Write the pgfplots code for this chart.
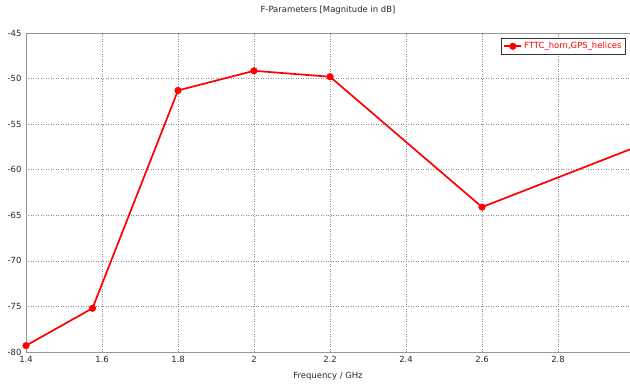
\documentclass[border=0pt]{standalone}
\usepackage{pgfplots}
\pgfplotsset{compat=1.18}
\usepackage{fontspec}
\setmainfont{DejaVu Sans}
\definecolor{axgray}{RGB}{150,150,150}
\definecolor{gridgray}{RGB}{140,140,140}
\begin{document}
\begin{tikzpicture}
\begin{axis}[
  scale only axis,
  width=604bp, height=319bp,
  xmin=1.4, xmax=2.9895, ymin=-80, ymax=-45,
  xtick={1.4,1.6,1.8,2,2.2,2.4,2.6,2.8},
  ytick={-80,-75,-70,-65,-60,-55,-50,-45},
  /pgf/number format/assume math mode=true,
  font=\fontsize{8.5}{10}\selectfont,
  ticklabel style={font=\fontsize{8.5}{10}\selectfont, text=black!85},
  major tick length=0pt,
  xticklabel style={yshift=-1bp},
  yticklabel style={xshift=-1bp},
  axis line style={axgray, line width=0.8bp},
  grid=major,
  major grid style={gridgray, line width=0.5bp, dash pattern=on 1bp off 1.5bp},
  title={F-Parameters [Magnitude in dB]},
  title style={at={(0.5,1)}, anchor=south, yshift=9bp, font=\fontsize{8.5}{10}\selectfont, text=black!85},
  xlabel={Frequency / GHz},
  xlabel style={at={(0.5,0)}, anchor=north, yshift=-17bp, font=\fontsize{8.5}{10}\selectfont, text=black!85},
  legend style={at={(0.9935,0.985)}, anchor=north east, draw=black!80, line width=1.1bp,
    font=\fontsize{8.5}{10}\selectfont, text=red, inner sep=2bp, row sep=0pt},
  legend cell align=left,
]
\addplot[red, line width=1.7bp, mark=*, mark size=3.3bp, mark options={solid, fill=red, line width=0.5bp}]
  coordinates {(1.4,-79.3) (1.575,-75.2) (1.8,-51.3) (2.0,-49.15) (2.2,-49.8) (2.6,-64.1)};
\addlegendentry{FTTC\_horn,GPS\_helices}
\addplot[red, line width=1.7bp, forget plot] coordinates {(2.6,-64.1) (3.0,-57.6)};
\coordinate (sw) at (rel axis cs:0,0);
\coordinate (ne) at (rel axis cs:1,1);
\end{axis}
\pgfresetboundingbox
\path[use as bounding box] ([shift={(-26bp,-33bp)}]sw) rectangle ([shift={(0bp,33bp)}]ne);
\end{tikzpicture}
\end{document}
